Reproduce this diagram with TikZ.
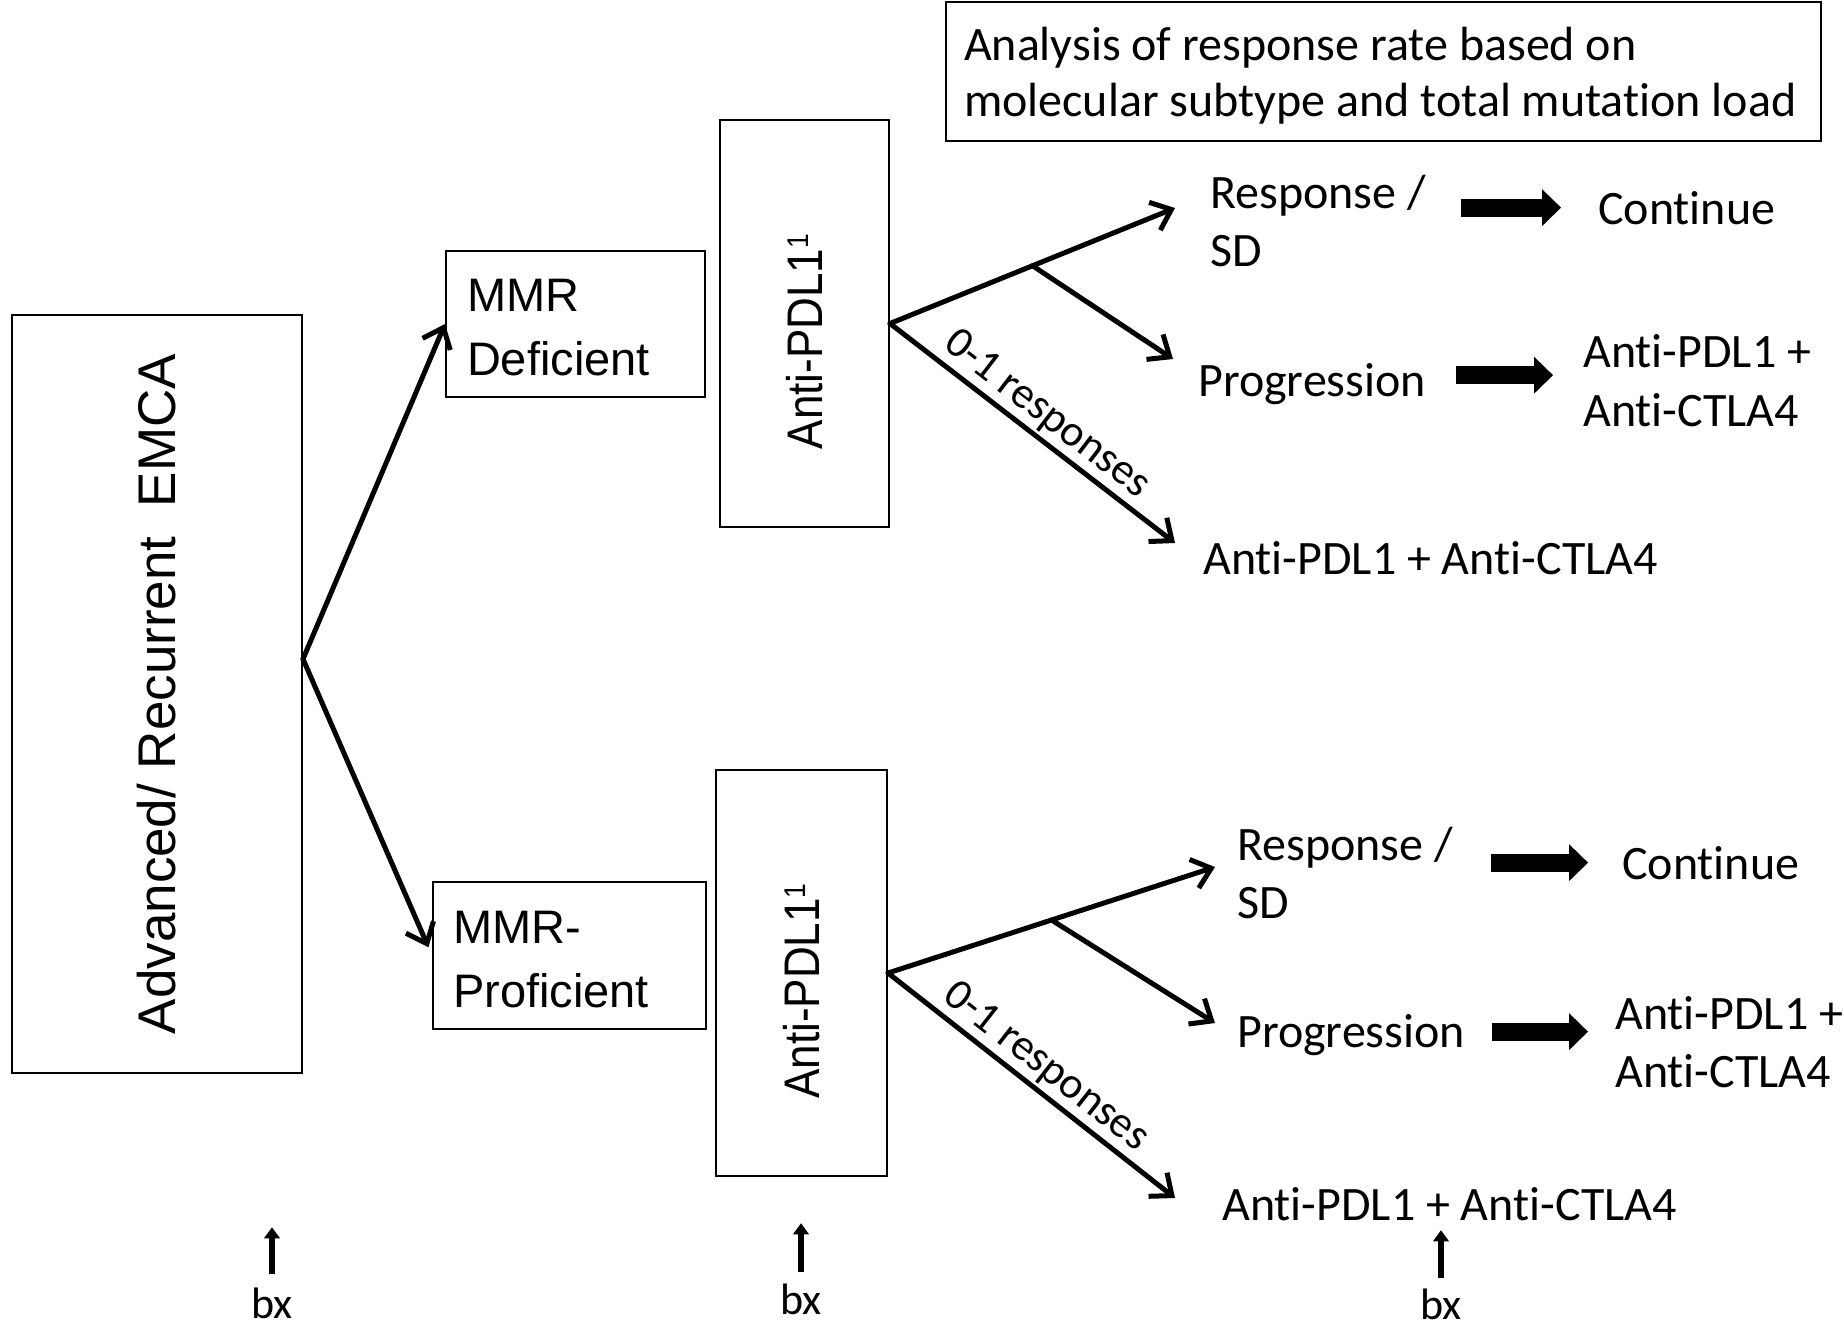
\documentclass[tikz,border=0pt]{standalone}
\usepackage{fontspec}
\usepackage{graphicx}
\setmainfont{Liberation Sans}
\newfontfamily\calib[Ligatures=NoCommon]{Carlito}
\usetikzlibrary{arrows.meta,calc}
% two left-aligned lines whose baseline is the first line's baseline
\newcommand\stackedlines[2]{\vtop{\hbox{#1}\hbox{#2}}}
% narrow upright label for the treatment boxes (set a little below the box centre)
\newcommand\pdlabel{\rotatebox{90}{\scalebox{0.88}[1]{\fontsize{50}{54}\selectfont
  Anti-PDL1\raisebox{14pt}{\fontsize{30}{30}\selectfont 1}}\hspace{36pt}}}

\begin{document}
\begin{tikzpicture}[x=1pt, y=-1pt,
  box/.style={draw, line width=2pt, inner sep=0pt},
  arialtxt/.style={font=\fontsize{47}{64}\selectfont},
  caltxt/.style={font=\calib\fontsize{48}{56}\selectfont, inner sep=0pt},
  twoline/.style={font=\calib\fontsize{48}{58}\selectfont, inner sep=0pt},
  flow/.style={line width=5pt, line cap=round, line join=round,
    -{Straight Barb[length=18pt, width=30pt]}},
  block/.style={line width=18pt, -{Triangle[length=19pt, width=37pt, line width=0pt]}},
  bxarrow/.style={line width=6pt, -{Triangle[length=11pt, width=16pt, line width=0pt]}},
  slopelabel/.style={sloped, above, inner sep=3pt, font=\calib\fontsize{44}{44}\selectfont}
]
\fill[white] (0,0) rectangle (1844,1326);
\useasboundingbox (0,0) rectangle (1844,1326);

% ---- left column: disease and molecular subtype ----
\node[box, minimum width=290pt, minimum height=758pt] (emca) at (157,694)
  {\rotatebox{90}{\fontsize{53}{60}\selectfont Advanced/ Recurrent\ \ EMCA}};
\node[box, arialtxt, minimum width=259pt, minimum height=146pt, inner xsep=21pt,
  text width=217pt, align=left] (mmrd) at (575.5,324) {\rule{0pt}{40pt}MMR\\Deficient};
\node[box, arialtxt, minimum width=273pt, minimum height=147pt, inner xsep=20pt,
  text width=233pt, align=left] (mmrp) at (569.5,955.5) {\rule{0pt}{40pt}MMR-\\Proficient};

\coordinate (fork) at ($(emca.east)+(0,-35)$);
\draw[flow] (fork) -- (mmrd.west);
\draw[flow, shorten >=9pt] (fork) -- (mmrp.west);

% ---- treatment boxes ----
\node[box, minimum width=169pt, minimum height=407pt] (pdl1) at (804.5,323.5) {\pdlabel};
\node[box, minimum width=171pt, minimum height=406pt] (pdl2) at (801.5,973) {\pdlabel};

% ---- analysis note ----
\node[box, caltxt, minimum width=875pt, minimum height=139pt] (note) at (1383.5,71.5)
  {\makebox[839pt][l]{\stackedlines{\rule{0pt}{41pt}Analysis of response rate based on}%
    {molecular subtype and total mutation load}}};

% ---- outcomes, upper branch ----
\node[twoline, anchor=base west] (resp1) at (1210,208) {\stackedlines{Response /}{SD}};
\node[caltxt, anchor=base west] (prog1) at (1198,396) {Progression};
\node[caltxt, anchor=base west] (combo1) at (1203,574) {Anti-PDL1 + Anti-CTLA4};
\node[caltxt, anchor=base west] (cont1) at (1598,224) {Continue};
\node[twoline, font=\calib\fontsize{48}{59}\selectfont, anchor=base west] (esc1) at (1583,367)
  {\stackedlines{Anti-PDL1 +}{Anti-CTLA4}};

\coordinate (tipA1) at ($(resp1.base west)+(-35,0)$);
\coordinate (brA1) at ($(pdl1.east)!0.5!(tipA1)$);
\coordinate (tipB1) at ($(prog1.base west)+(-25,-37)$);
\coordinate (tipC1) at ($(combo1.base west)+(-28,-31)$);
\draw[flow] (pdl1.east) -- (tipA1);
\draw[flow] (brA1) -- (tipB1);
\draw[flow] (pdl1.east) -- node[slopelabel, pos=0.5] {0-1 responses} (tipC1);

\draw[block, shorten <=35pt, shorten >=37pt] (resp1.east |- cont1.west) -- (cont1.west);
\draw[block, shorten <=30pt, shorten >=30pt]
  ($(prog1.east |- esc1.west)+(0,-5)$) -- ($(esc1.west)+(0,-5)$);

% ---- outcomes, lower branch ----
\node[twoline, anchor=base west] (resp2) at (1237,860) {\stackedlines{Response /}{SD}};
\node[caltxt, anchor=base west] (prog2) at (1237,1047) {Progression};
\node[caltxt, anchor=base west] (combo2) at (1222,1220) {Anti-PDL1 + Anti-CTLA4};
\node[caltxt, anchor=base west] (cont2) at (1622,879) {Continue};
\node[twoline, anchor=base west] (esc2) at (1615,1029)
  {\stackedlines{Anti-PDL1 +}{Anti-CTLA4}};

\coordinate (tipA2) at ($(resp2.base west)+(-22,7)$);
\coordinate (brA2) at ($(pdl2.east)!0.5!(tipA2)$);
\coordinate (tipB2) at ($(prog2.base west)+(-22,-24)$);
\coordinate (tipC2) at ($(combo2.base west)+(-47,-22)$);
\draw[flow] (pdl2.east) -- (tipA2);
\draw[flow] (brA2) -- (tipB2);
\draw[flow] (pdl2.east) -- node[slopelabel, pos=0.5] {0-1 responses} (tipC2);

\draw[block, shorten <=38pt, shorten >=34pt] (resp2.east |- cont2.west) -- (cont2.west);
\draw[block, shorten <=27pt, shorten >=27pt]
  ($(prog2.east |- esc2.west)+(0,-10)$) -- ($(esc2.west)+(0,-10)$);

% ---- biopsy time points ----
\node[caltxt, anchor=base, font=\calib\fontsize{44}{44}\selectfont] (bx1) at (272,1318) {bx};
\node[caltxt, anchor=base, font=\calib\fontsize{44}{44}\selectfont] (bx2) at (801,1314) {bx};
\node[caltxt, anchor=base, font=\calib\fontsize{44}{44}\selectfont] (bx3) at (1441,1319) {bx};
\coordinate (bxt1) at ($(bx1.north)+(0,-60)$);
\coordinate (bxt2) at ($(bx2.north)+(0,-60)$);
\coordinate (bxt3) at ($(bx3.north)+(0,-58)$);
\draw[bxarrow, shorten <=13pt] (bx1.north) -- (bxt1);
\draw[bxarrow, shorten <=11pt] (bx2.north) -- (bxt2);
\draw[bxarrow, shorten <=10pt] (bx3.north) -- (bxt3);
\end{tikzpicture}
\end{document}
